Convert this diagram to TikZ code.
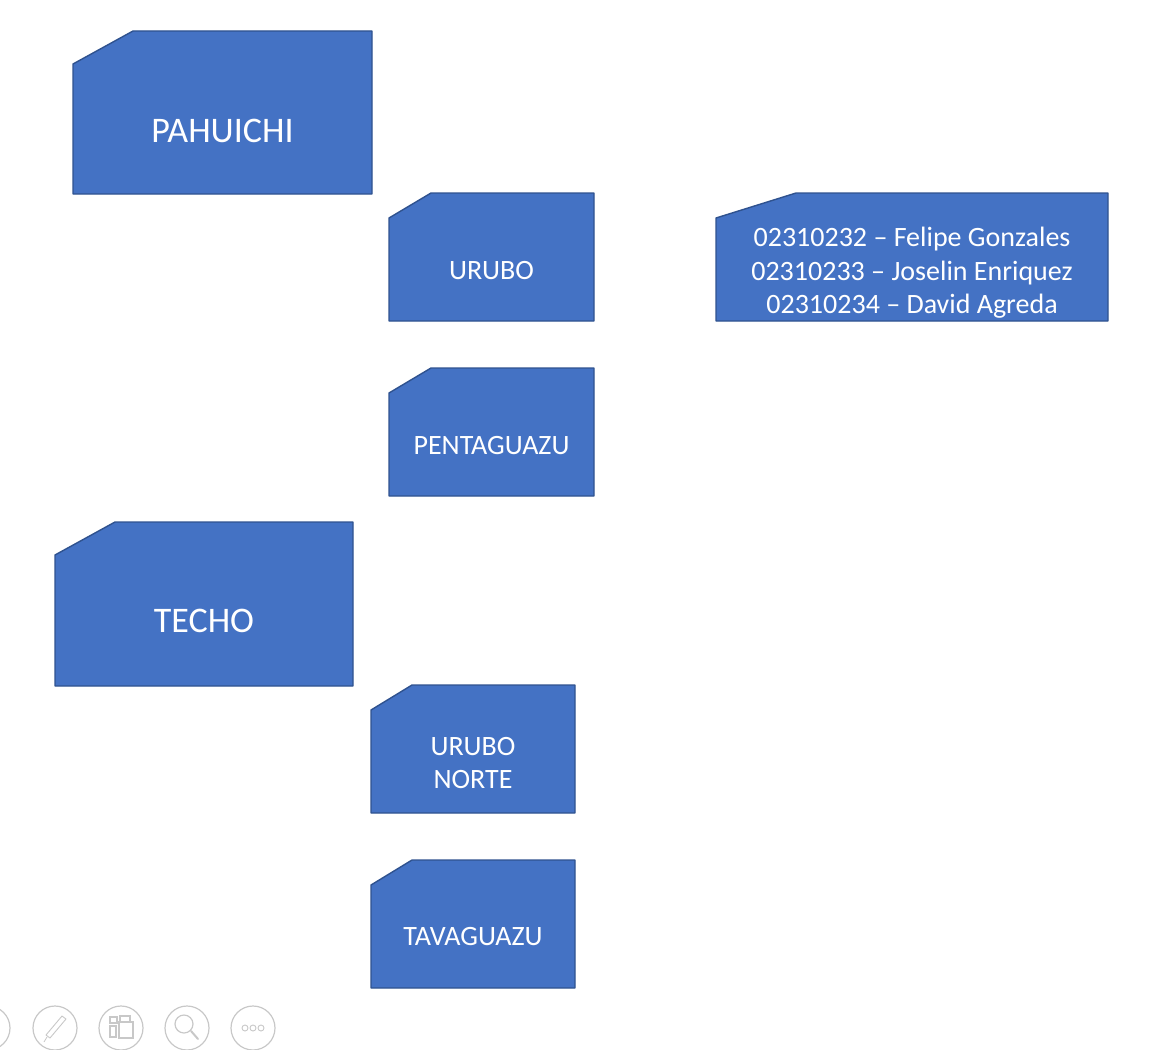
\documentclass[tikz,border=0pt]{standalone}
\usepackage{fontspec}
\setmainfont{Carlito}
\definecolor{boxblue}{RGB}{68, 114, 196}
\definecolor{boxedge}{RGB}{47, 82, 143}
\definecolor{icongray}{RGB}{200, 200, 200}
\usetikzlibrary{positioning}

\begin{document}
\begin{tikzpicture}[x=1pt, y=-1pt,
  snipbox/.style={fill=boxblue, draw=boxedge, line width=1.4pt, line join=round},
  biglabel/.style={text=white, align=center, font=\fontsize{36}{43}\selectfont, inner sep=0pt},
  label/.style={text=white, align=center, font=\fontsize{28}{33.5}\selectfont, inner sep=0pt},
  icon/.style={draw=icongray, line width=1.2pt}]
  \useasboundingbox (0,0) rectangle (1169,1049);
  % boxes of the first group
  \filldraw[snipbox] (73,64) -- (133,31) -- (372,31) -- (372,194) -- (73,194) -- cycle;
  \node[biglabel] (pahuichi) at (222.5,131) {PAHUICHI};
  \filldraw[snipbox] (389,218) -- (431,193) -- (594,193) -- (594,321) -- (389,321) -- cycle;
  \node[label] (urubo) at (491.5,271) {URUBO};
  \filldraw[snipbox] (716,218) -- (796,193) -- (1108,193) -- (1108,321) -- (716,321) -- cycle;
  \node[label] (names) at (912,273) {02310232 -- Felipe Gonzales\\02310233 -- Joselin Enriquez\\02310234 -- David Agreda};
  \filldraw[snipbox] (389,393) -- (431,368) -- (594,368) -- (594,496) -- (389,496) -- cycle;
  \node[label] (pentaguazu) at (491.5,446) {PENTAGUAZU};
  % boxes of the second group
  \filldraw[snipbox] (55,555) -- (115,522) -- (353,522) -- (353,686) -- (55,686) -- cycle;
  \node[biglabel] (techo) at (204,621) {TECHO};
  \filldraw[snipbox] (371,710) -- (412,685) -- (575,685) -- (575,813) -- (371,813) -- cycle;
  \node[label] (urubonorte) at (473,763) {URUBO\\NORTE};
  \filldraw[snipbox] (371,885) -- (412,860) -- (575,860) -- (575,988) -- (371,988) -- cycle;
  \node[label] (tavaguazu) at (473,937) {TAVAGUAZU};
  % slide show controls
  \foreach \cx in {-12,55,121,187,253}
    \draw[icon] (\cx,1028) circle (22);
  \draw[icon, line width=0.9pt, line join=round] (46,1035) -- (62,1016) -- (66,1019) -- (50,1038) -- cycle;
  \draw[icon, line width=0.8pt] (47,1037) -- (44,1042);
  \draw[icon] (110,1017) rectangle (117,1023) (120,1016) rectangle (130,1022)
    (110,1026) rectangle (116,1037) (119,1022) rectangle (133,1038);
  \draw[icon] (184,1024) circle (9);
  \draw[icon, line width=2pt, line cap=round] (191,1031) -- (198,1039);
  \foreach \dx in {-8,0,8}
    \draw[icon, line width=0.9pt] (253+\dx,1028) circle (3);
\end{tikzpicture}
\end{document}
